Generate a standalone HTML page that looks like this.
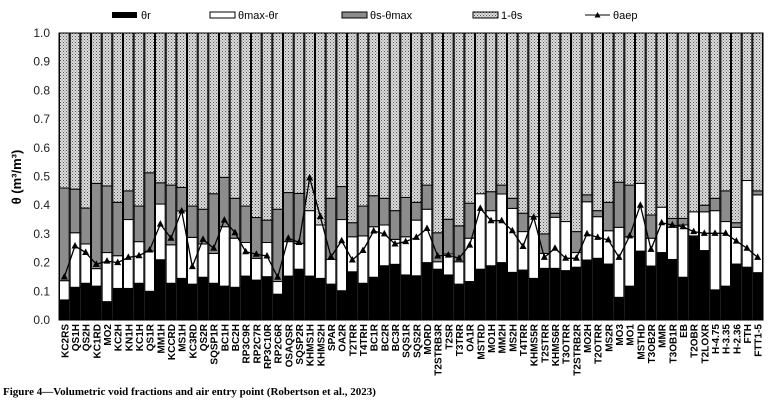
<!DOCTYPE html>
<html><head><meta charset="utf-8"><style>
body{margin:0;background:#fff;width:773px;height:404px;overflow:hidden}
svg{display:block;font-family:"Liberation Sans",Arial,sans-serif}
</style></head><body>
<svg id="chart" width="773" height="404">
<defs>
<pattern id="dots" width="3" height="3" patternUnits="userSpaceOnUse">
<rect width="3" height="3" fill="#dcdcdc"/><rect x="0" y="0" width="1" height="1" fill="#555"/><rect x="1.5" y="1.5" width="1" height="1" fill="#777"/>
</pattern>
</defs>
<g id="legend" font-size="11">
<g><rect x="112" y="12" width="25" height="6" fill="#000"/><text x="141" y="19">θr</text></g>
<g><rect x="210" y="12" width="25" height="6" fill="#fff" stroke="#000"/><text x="238" y="19">θmax-θr</text></g>
<g><rect x="342" y="12" width="25" height="6" fill="#8c8c8c" stroke="#000"/><text x="370" y="19">θs-θmax</text></g>
<g><rect x="473" y="12" width="25" height="6" fill="url(#dots)" stroke="#000"/><text x="501" y="19">1-θs</text></g>
<g><line x1="585" y1="15" x2="610" y2="15" stroke="#000"/><path d="M597.5 12 L600.5 17.5 L594.5 17.5Z" fill="#000"/><text x="613" y="19">θaep</text></g>
</g>
<text transform="translate(21,177) rotate(-90)" text-anchor="middle" font-size="13" font-weight="bold">θ (m³/m³)</text>
<g id="yaxis"></g>
<g id="bars"></g>
<g id="line"></g>
<g id="xaxis"></g>
<text x="3" y="395" font-family="'Liberation Serif',serif" font-weight="bold" font-size="11">Figure 4—Volumetric void fractions and air entry point (Robertson et al., 2023)</text>
</svg>
<script>
const categories=["KC2RS","QS1H","QS2H","KC1RD","MO2","KC2H","KN1H","KC1H","QS1R","MM1H","KCCRD","MS1H","KC3RD","QS2R","SQSP1R","BC1H","BC2H","RP3C9R","RP2C7R","RP3C10R","RP2C6R","OSAQSR","SQSP2R","KHMS1H","KHMS2H","SPAR","OA2R","T2TRR","T4TRH","BC1R","BC2R","BC3R","SQS1R","SQS2R","MORD","T2STRB3R","T2SR","T3TRR","OA1R","MSTRD","MO1H","MM2H","MS2H","T4TRR","KHMS5R","T2STRR","KHMS6R","T3OTRR","T2STRB2R","MO2H","T2OTRR","MS2R","MO3","MO1","MSTHD","T3OB2R","MMR","T3OB1R","EB","T2OBR","T2LOXR","H-4.75","H-3.35","H-2.36","FTH","FTT1-5"];
const thetaR=[0.07,0.114,0.128,0.118,0.064,0.11,0.11,0.128,0.1,0.21,0.128,0.145,0.125,0.149,0.128,0.118,0.114,0.153,0.139,0.151,0.09,0.153,0.177,0.153,0.145,0.125,0.102,0.168,0.128,0.149,0.189,0.194,0.157,0.154,0.2,0.177,0.157,0.125,0.134,0.177,0.189,0.2,0.166,0.174,0.145,0.18,0.18,0.172,0.184,0.209,0.215,0.195,0.079,0.118,0.24,0.188,0.235,0.211,0.149,0.293,0.242,0.105,0.118,0.195,0.184,0.165];
const thetaMax=[0.137,0.304,0.265,0.179,0.235,0.224,0.35,0.273,0.24,0.404,0.262,0.38,0.288,0.265,0.232,0.325,0.285,0.27,0.215,0.27,0.134,0.273,0.267,0.381,0.331,0.211,0.35,0.29,0.293,0.325,0.331,0.281,0.29,0.348,0.386,0.203,0.23,0.203,0.285,0.44,0.381,0.439,0.389,0.308,0.36,0.232,0.358,0.343,0.235,0.412,0.36,0.311,0.323,0.29,0.476,0.285,0.393,0.323,0.331,0.377,0.377,0.381,0.343,0.323,0.486,0.436];
const thetaS=[0.46,0.456,0.39,0.476,0.467,0.41,0.45,0.397,0.513,0.478,0.47,0.462,0.397,0.386,0.44,0.497,0.424,0.397,0.357,0.348,0.386,0.444,0.441,0.381,0.331,0.424,0.465,0.339,0.397,0.433,0.424,0.381,0.427,0.41,0.47,0.304,0.351,0.328,0.407,0.44,0.447,0.47,0.424,0.372,0.36,0.3,0.372,0.343,0.308,0.436,0.381,0.41,0.48,0.47,0.476,0.366,0.393,0.354,0.354,0.377,0.4,0.424,0.45,0.339,0.486,0.45];
const thetaAep=[0.15,0.258,0.235,0.194,0.205,0.2,0.218,0.224,0.244,0.334,0.285,0.38,0.186,0.281,0.25,0.348,0.304,0.238,0.229,0.223,0.149,0.285,0.27,0.495,0.36,0.22,0.276,0.209,0.242,0.31,0.3,0.265,0.273,0.288,0.319,0.223,0.226,0.215,0.261,0.389,0.346,0.346,0.311,0.256,0.358,0.218,0.25,0.215,0.215,0.3,0.288,0.279,0.218,0.293,0.4,0.246,0.339,0.331,0.325,0.308,0.302,0.302,0.302,0.275,0.25,0.218];
const yTicks=["0.0","0.1","0.2","0.3","0.4","0.5","0.6","0.7","0.8","0.9","1.0"];
const NS="http://www.w3.org/2000/svg";
const L=59,R=763,T=33,B=320;
const step=(R-L)/categories.length;
const xc=i=>L+step*(i+0.5);
const y=v=>B-(B-T)*v;
function mk(tag,attrs,parent){const e=document.createElementNS(NS,tag);for(const k in attrs)e.setAttribute(k,attrs[k]);parent.appendChild(e);return e;}
const yaxis=document.getElementById('yaxis');
yTicks.forEach(t=>{const el=mk('text',{x:50,y:y(parseFloat(t))+4,'text-anchor':'end','font-size':12,fill:'#222'},yaxis);


el.textContent=t;});
const bars=document.getElementById('bars');
const bw=step-1;
categories.forEach((c,i)=>{
 const x0=xc(i)-bw/2;
 const segs=[[0,thetaR[i],'#000'],[thetaR[i],thetaMax[i],'#fff'],[thetaMax[i],thetaS[i],'#8c8c8c'],[thetaS[i],1,'url(#dots)']];
 const g=mk('g',{},bars);
 
 
 segs.forEach(s=>{if(s[1]-s[0]<=0)return;const r=mk('rect',{x:x0,y:y(s[1]),width:bw,height:y(s[0])-y(s[1]),fill:s[2],stroke:'#000','stroke-width':1},g);
 
 });
});
const line=document.getElementById('line');
const p=mk('polyline',{points:thetaAep.map((v,i)=>xc(i)+','+y(v)).join(' '),fill:'none',stroke:'#000','stroke-width':1.3},line);


thetaAep.forEach((v,i)=>{const cx=xc(i),cy=y(v);const m=mk('path',{d:`M${cx} ${cy-4}L${cx+3.5} ${cy+2.5}L${cx-3.5} ${cy+2.5}Z`,fill:'#000'},line);

});
mk('rect',{x:L,y:T,width:R-L,height:B-T,fill:'none',stroke:'#000'},line);
const xaxis=document.getElementById('xaxis');
categories.forEach((c,i)=>{const t=mk('text',{transform:`translate(${xc(i)+4},${B+4}) rotate(-90)`,'text-anchor':'end','font-size':10,'font-weight':'bold'},xaxis);


t.textContent=c;});
</script>
</body></html>
